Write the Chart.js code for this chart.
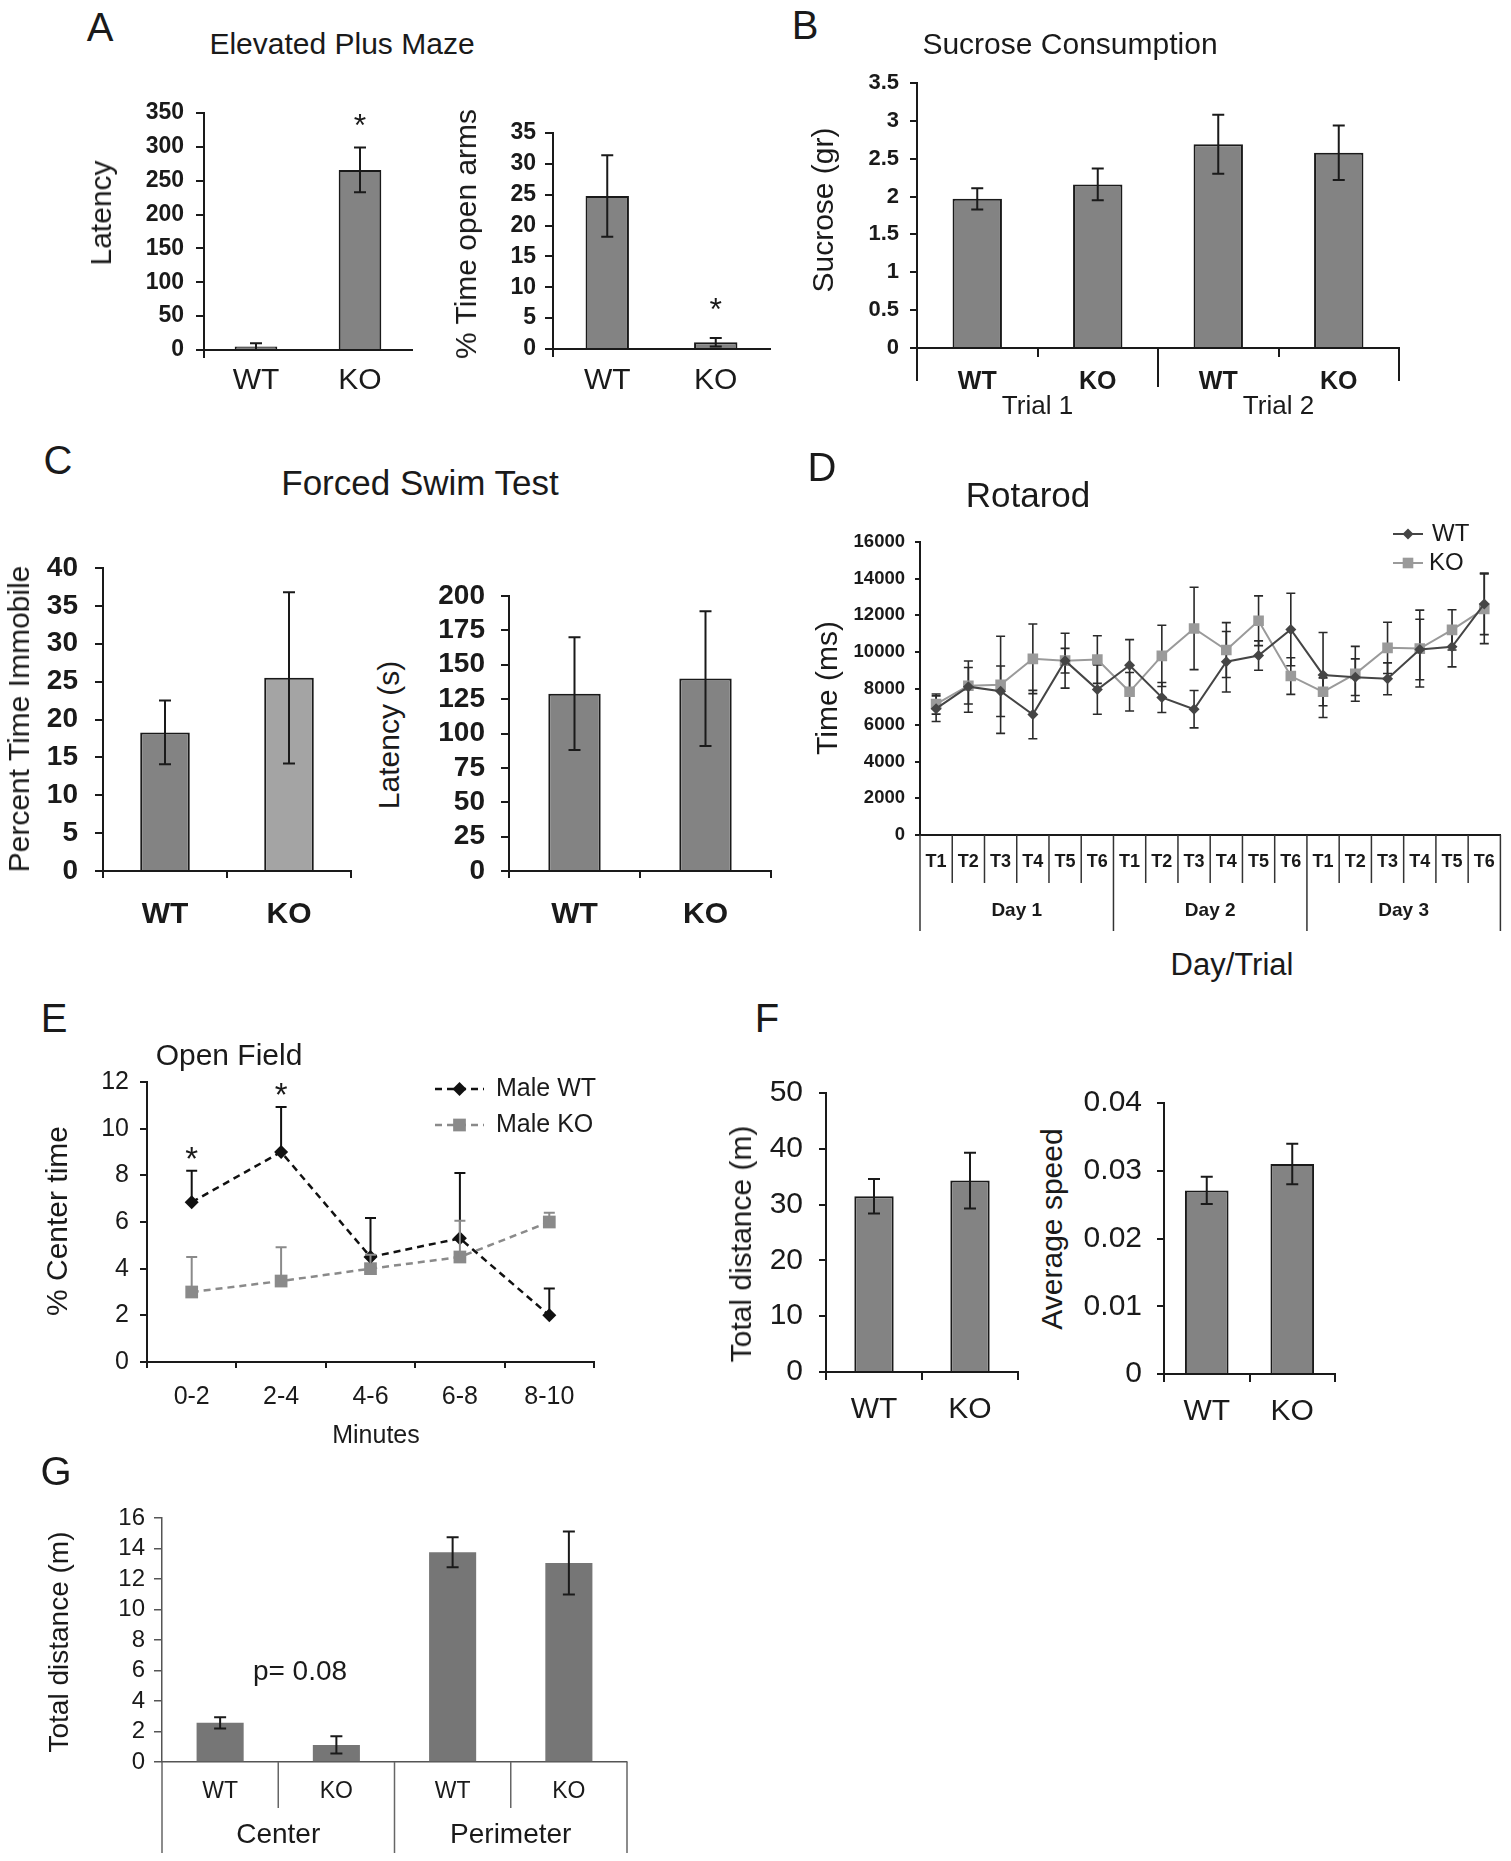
<!DOCTYPE html>
<html><head><meta charset="utf-8">
<script src="https://cdn.jsdelivr.net/npm/chart.js"></script>
<style>
html,body{margin:0;padding:0;background:#fff;}
body{position:relative;width:1511px;height:1861px;overflow:hidden;font-family:'Liberation Sans',Arial,sans-serif;color:#1a1a1a;}
canvas{position:absolute;}
.t{position:absolute;white-space:nowrap;line-height:1;transform:translate(-50%,-50%);}
.t.r{transform:translate(-50%,-50%) rotate(-90deg);}
</style></head><body>
<script>
// ---------------- DATA ----------------
// A: Elevated Plus Maze
const epmCats = ['WT', 'KO'];
const epmLatency = [5, 266];
const epmLatencyErr = [5, 33];
const epmOpenArms = [24.8, 1.1];
const epmOpenArmsErr = [6.6, 0.7];
// B: Sucrose consumption
const sucroseCats = ['WT', 'KO', 'WT', 'KO'];
const sucroseGroups = ['Trial 1', 'Trial 2'];
const sucrose = [1.97, 2.16, 2.69, 2.58];
const sucroseErr = [0.14, 0.21, 0.39, 0.36];
// C: Forced swim test
const fstCats = ['WT', 'KO'];
const fstImmobile = [18.3, 25.5];
const fstImmobileErr = [4.2, 11.3];
const fstLatency = [129, 140];
const fstLatencyErr = [41, 49];
// D: Rotarod
const rotarodTrials = ['T1','T2','T3','T4','T5','T6','T1','T2','T3','T4','T5','T6','T1','T2','T3','T4','T5','T6'];
const rotarodDays = ['Day 1', 'Day 2', 'Day 3'];
const rotarodWT = [6900, 8100, 7850, 6580, 9520, 7940, 9270, 7510, 6870, 9460, 9800, 11220, 8740, 8620, 8530, 10130, 10280, 12620];
const rotarodWTErr = [700, 1400, 1380, 1320, 670, 1350, 1400, 820, 1020, 1650, 800, 1980, 2320, 1000, 870, 1650, 1100, 1680];
const rotarodKO = [7150, 8150, 8200, 9620, 9520, 9580, 7820, 9780, 11280, 10100, 11700, 8680, 7820, 8800, 10220, 10180, 11200, 12350];
const rotarodKOErr = [550, 1000, 2650, 1900, 1500, 1300, 1050, 1670, 2250, 1500, 1360, 1000, 760, 1500, 1400, 2100, 1100, 1900];
// E: Open field
const ofCats = ['0-2', '2-4', '4-6', '6-8', '8-10'];
const ofWT = [6.85, 9.0, 4.5, 5.3, 2.0];
const ofWTErr = [1.35, 1.93, 1.67, 2.8, 1.15];
const ofKO = [3.0, 3.47, 4.0, 4.5, 6.0];
const ofKOErr = [1.5, 1.45, 0.6, 1.55, 0.4];
// F: Locomotion
const locoCats = ['WT', 'KO'];
const totalDistance = [31.5, 34.3];
const totalDistanceErr = [3.1, 5.0];
const avgSpeed = [0.0271, 0.031];
const avgSpeedErr = [0.002, 0.003];
// G: Zone distance
const zoneCats = ['WT', 'KO', 'WT', 'KO'];
const zoneGroups = ['Center', 'Perimeter'];
const zoneDistance = [2.57, 1.12, 13.75, 13.05];
const zoneDistanceErr = [0.37, 0.57, 0.98, 2.07];

// ---------------- HELPERS ----------------
const FONT = "'Liberation Sans', Arial, sans-serif";
Chart.defaults.font.family = FONT;
Chart.defaults.color = '#1a1a1a';
const INK = '#1a1a1a';
function fmt(v){ return String(Math.round(v * 1e6) / 1e6); }

function txt(s, x, y, size, opts){
  opts = opts || {};
  const d = document.createElement('div');
  d.className = 't' + (opts.rot ? ' r' : '');
  d.textContent = s;
  d.style.left = x + 'px'; d.style.top = y + 'px';
  d.style.fontSize = size + 'px';
  if (opts.bold) d.style.fontWeight = 'bold';
  document.body.appendChild(d);
}

function drawMarker(ctx, style, x, y, r, color){
  ctx.fillStyle = color; ctx.beginPath();
  if (style === 'diamond'){ ctx.moveTo(x, y - r); ctx.lineTo(x + r, y); ctx.lineTo(x, y + r); ctx.lineTo(x - r, y); ctx.closePath(); }
  else { const h = r * Math.SQRT1_2; ctx.rect(x - h, y - h, 2 * h, 2 * h); }
  ctx.fill();
}

function makePanel(o){
  o.axisColor = o.axisColor || INK; o.axisW = o.axisW || 2;
  const w = o.yW + (o.area.r - o.area.l) + o.padR;
  const h = o.padT + (o.area.b - o.area.t) + o.xH;
  const ox = o.area.l - o.yW, oy = o.area.t - o.padT;
  const cv = document.createElement('canvas');
  cv.width = w; cv.height = h;
  cv.style.left = ox + 'px'; cv.style.top = oy + 'px';
  cv.style.width = w + 'px'; cv.style.height = h + 'px';
  document.body.appendChild(cv);

  function drawErr(chart){
    const ctx = chart.ctx, ys = chart.scales.y;
    chart.data.datasets.forEach((ds, di) => {
      if (!ds.errors) return;
      const meta = chart.getDatasetMeta(di);
      ctx.save();
      ctx.strokeStyle = ds.errorColor || INK;
      ctx.lineWidth = ds.errorWidth || 2;
      const cap = (ds.errorCap || 12) / 2;
      meta.data.forEach((el, i) => {
        const v = ds.data[i], e = ds.errors[i];
        const x = el.x;
        const yT = ys.getPixelForValue(v + e);
        const yB = ys.getPixelForValue(ds.errorPlusOnly ? v : v - e);
        ctx.beginPath();
        ctx.moveTo(x, yT); ctx.lineTo(x, yB);
        ctx.moveTo(x - cap, yT); ctx.lineTo(x + cap, yT);
        if (!ds.errorPlusOnly){ ctx.moveTo(x - cap, yB); ctx.lineTo(x + cap, yB); }
        ctx.stroke();
      });
      ctx.restore();
    });
  }
  function drawSeps(chart){
    if (!o.seps) return;
    const ctx = chart.ctx, xs = chart.scales.x, n = chart.data.labels.length;
    const cw = (xs.right - xs.left) / n, y0 = xs.top;
    ctx.save(); ctx.strokeStyle = o.sepColor || INK; ctx.lineWidth = o.sepW || 2;
    o.seps.forEach(s => s.at.forEach(k => {
      const x = xs.left + k * cw;
      ctx.beginPath(); ctx.moveTo(x, y0); ctx.lineTo(x, y0 + s.len); ctx.stroke();
    }));
    ctx.restore();
  }
  function drawGroups(chart){
    if (!o.groups) return;
    const g = o.groups, ctx = chart.ctx, xs = chart.scales.x, n = chart.data.labels.length;
    const cw = (xs.right - xs.left) / n, per = n / g.labels.length;
    ctx.save();
    ctx.font = (g.bold ? 'bold ' : '') + g.size + 'px ' + FONT;
    ctx.fillStyle = INK; ctx.textAlign = 'center'; ctx.textBaseline = 'middle';
    g.labels.forEach((t, i) => ctx.fillText(t, xs.left + cw * per * (i + 0.5), xs.top + g.dy));
    ctx.restore();
  }
  function drawStars(chart){
    if (!o.stars) return;
    const s = o.stars, ctx = chart.ctx, ys = chart.scales.y;
    const di = s.ds || 0, ds = chart.data.datasets[di], meta = chart.getDatasetMeta(di);
    ctx.save();
    ctx.font = s.size + 'px ' + FONT;
    ctx.fillStyle = INK; ctx.textAlign = 'center'; ctx.textBaseline = 'alphabetic';
    s.idx.forEach(i => {
      const x = meta.data[i].x;
      const yc = ys.getPixelForValue(ds.data[i] + ds.errors[i]) - s.gap;
      ctx.fillText('*', x, yc + 0.575 * s.size);
    });
    ctx.restore();
  }
  function drawLegend(chart){
    if (!o.legend) return;
    const ctx = chart.ctx;
    o.legend.forEach(L => {
      const y = L.y - oy, x1 = L.x1 - ox, x2 = L.x2 - ox, xm = (x1 + x2) / 2;
      ctx.save();
      ctx.strokeStyle = L.color; ctx.lineWidth = L.lw || 2; ctx.setLineDash(L.dash || []);
      ctx.beginPath(); ctx.moveTo(x1, y); ctx.lineTo(x2, y); ctx.stroke();
      ctx.setLineDash([]);
      drawMarker(ctx, L.style, xm, y, L.r, L.color);
      ctx.font = L.size + 'px ' + FONT;
      ctx.fillStyle = INK; ctx.textAlign = 'left'; ctx.textBaseline = 'middle';
      ctx.fillText(L.text, L.tx - ox, y);
      ctx.restore();
    });
  }
  const extras = {
    id: 'extras',
    beforeDatasetsDraw(chart){ if (o.errLayer === 'before') drawErr(chart); },
    afterDatasetsDraw(chart){ if (o.errLayer !== 'before') drawErr(chart); },
    afterDraw(chart){ drawSeps(chart); drawGroups(chart); drawStars(chart); drawLegend(chart); }
  };

  return new Chart(cv, {
    type: o.type,
    data: { labels: o.labels, datasets: o.datasets },
    options: {
      responsive: false, maintainAspectRatio: false, animation: false, events: [],
      layout: { padding: { top: o.padT, right: o.padR, left: 0, bottom: 0 } },
      plugins: { legend: { display: false }, tooltip: { enabled: false }, title: { display: false } },
      scales: {
        x: {
          offset: true,
          border: { display: true, color: o.axisColor, width: o.axisW },
          grid: { display: o.xt.len > 0, offset: true, drawOnChartArea: false, drawTicks: o.xt.len > 0,
                  tickLength: o.xt.len || 0, color: o.axisColor, lineWidth: o.axisW },
          ticks: { font: { size: o.xt.size, weight: o.xt.bold ? 'bold' : 'normal' }, color: INK,
                   padding: o.xt.pad, maxRotation: 0, autoSkip: false },
          afterFit(s){ s.height = o.xH; }
        },
        y: {
          min: o.y.min, max: o.y.max,
          border: { display: true, color: o.axisColor, width: o.axisW },
          grid: { drawOnChartArea: false, drawTicks: o.yt.len > 0, tickLength: o.yt.len, color: o.axisColor, lineWidth: o.axisW },
          ticks: { stepSize: o.y.step, autoSkip: false, font: { size: o.yt.size, weight: o.yt.bold ? 'bold' : 'normal' }, color: INK,
                   padding: o.yt.pad, callback: v => fmt(v) },
          afterFit(s){ s.width = o.yW; }
        }
      }
    },
    plugins: [extras]
  });
}

const BAR = '#838383';
function barSet(data, errors, pct, colors, border){
  return { data: data, errors: errors, backgroundColor: colors || BAR,
           borderColor: border === false ? 'rgba(0,0,0,0)' : INK, borderWidth: border === false ? 0 : 2,
           barPercentage: pct, categoryPercentage: 1, errorCap: 12 };
}

// ---------------- PANEL A ----------------
makePanel({ type: 'bar', labels: epmCats, area: { l: 204, t: 113, r: 412, b: 350 },
  yW: 90, xH: 60, padT: 40, padR: 10,
  y: { min: 0, max: 350, step: 50 }, yt: { size: 23, bold: true, len: 8, pad: 12 },
  xt: { size: 30, len: 0, pad: 13 },
  datasets: [barSet(epmLatency, epmLatencyErr, 0.41)],
  seps: [{ at: [0], len: 8 }],
  stars: { idx: [1], gap: 30, size: 32 } });

makePanel({ type: 'bar', labels: epmCats, area: { l: 553, t: 133, r: 770, b: 349 },
  yW: 80, xH: 60, padT: 40, padR: 10,
  y: { min: 0, max: 35, step: 5 }, yt: { size: 23, bold: true, len: 8, pad: 9 },
  xt: { size: 30, len: 0, pad: 14 },
  datasets: [barSet(epmOpenArms, epmOpenArmsErr, 0.4)],
  seps: [{ at: [0], len: 8 }],
  stars: { idx: [1], gap: 36, size: 32 } });

// ---------------- PANEL B ----------------
makePanel({ type: 'bar', labels: sucroseCats, area: { l: 917, t: 83, r: 1399, b: 348 },
  yW: 80, xH: 80, padT: 40, padR: 10,
  y: { min: 0, max: 3.5, step: 0.5 }, yt: { size: 22, bold: true, len: 7, pad: 11 },
  xt: { size: 25, bold: true, len: 9, pad: 10 },
  datasets: [barSet(sucrose, sucroseErr, 0.41)],
  seps: [{ at: [0, 4], len: 33 }, { at: [2], len: 39 }],
  groups: { labels: sucroseGroups, size: 26, dy: 59 } });

// ---------------- PANEL C ----------------
makePanel({ type: 'bar', labels: fstCats, area: { l: 103, t: 568, r: 351, b: 871 },
  yW: 100, xH: 70, padT: 40, padR: 10,
  y: { min: 0, max: 40, step: 5 }, yt: { size: 28, bold: true, len: 8, pad: 17 },
  xt: { size: 30, bold: true, len: 7, pad: 19 },
  datasets: [barSet(fstImmobile, fstImmobileErr, 0.4, [BAR, '#a4a4a4'])] });

makePanel({ type: 'bar', labels: fstCats, area: { l: 509, t: 596, r: 771, b: 871 },
  yW: 90, xH: 70, padT: 40, padR: 10,
  y: { min: 0, max: 200, step: 25 }, yt: { size: 28, bold: true, len: 8, pad: 16 },
  xt: { size: 30, bold: true, len: 7, pad: 19 },
  datasets: [barSet(fstLatency, fstLatencyErr, 0.4)] });

// ---------------- PANEL D ----------------
makePanel({ type: 'line', labels: rotarodTrials, area: { l: 920, t: 542, r: 1503, b: 835 },
  yW: 80, xH: 105, padT: 40, padR: 8,
  y: { min: 0, max: 16000, step: 2000 }, yt: { size: 18.5, bold: true, len: 5, pad: 10 },
  xt: { size: 18, bold: true, len: 0, pad: 16 },
  errLayer: 'before',
  datasets: [
    { data: rotarodWT, errors: rotarodWTErr, errorColor: '#2a2a2a', errorWidth: 1.6, errorCap: 9,
      borderColor: '#454545', backgroundColor: '#454545', borderWidth: 2, tension: 0,
      pointStyle: 'rectRot', pointRadius: 5.5, pointBackgroundColor: '#454545', pointBorderColor: '#454545', pointBorderWidth: 0 },
    { data: rotarodKO, errors: rotarodKOErr, errorColor: '#2a2a2a', errorWidth: 1.6, errorCap: 9,
      borderColor: '#9a9a9a', backgroundColor: '#9a9a9a', borderWidth: 2, tension: 0,
      pointStyle: 'rect', pointRadius: 7.5, pointBackgroundColor: '#9a9a9a', pointBorderColor: '#9a9a9a', pointBorderWidth: 0 }
  ],
  sepColor: '#333', sepW: 1.5,
  seps: [{ at: [1, 2, 3, 4, 5, 7, 8, 9, 10, 11, 13, 14, 15, 16, 17], len: 48 }, { at: [0, 6, 12, 18], len: 96 }],
  groups: { labels: rotarodDays, size: 19, bold: true, dy: 76 },
  legend: [
    { text: 'WT', y: 534, x1: 1393, x2: 1423, tx: 1432, color: '#454545', style: 'diamond', r: 5.5, size: 24 },
    { text: 'KO', y: 563, x1: 1393, x2: 1423, tx: 1429, color: '#9a9a9a', style: 'square', r: 7.5, size: 24 }
  ] });

// ---------------- PANEL E ----------------
makePanel({ type: 'line', labels: ofCats, area: { l: 147, t: 1082, r: 594, b: 1362 },
  yW: 80, xH: 60, padT: 40, padR: 10,
  y: { min: 0, max: 12, step: 2 }, yt: { size: 25, len: 7, pad: 11 },
  xt: { size: 25, len: 6, pad: 14 },
  datasets: [
    { data: ofWT, errors: ofWTErr, errorPlusOnly: true, errorColor: '#111', errorWidth: 2, errorCap: 11,
      borderColor: '#111', backgroundColor: '#111', borderWidth: 2.5, borderDash: [7, 5], tension: 0,
      pointStyle: 'rectRot', pointRadius: 7, pointBackgroundColor: '#111', pointBorderWidth: 0 },
    { data: ofKO, errors: ofKOErr, errorPlusOnly: true, errorColor: '#8a8a8a', errorWidth: 2, errorCap: 11,
      borderColor: '#8a8a8a', backgroundColor: '#8a8a8a', borderWidth: 2.5, borderDash: [7, 5], tension: 0,
      pointStyle: 'rect', pointRadius: 9, pointBackgroundColor: '#8a8a8a', pointBorderWidth: 0 }
  ],
  stars: { ds: 0, idx: [0, 1], gap: 20, size: 33 },
  legend: [
    { text: 'Male WT', y: 1089, x1: 435, x2: 484, tx: 496, color: '#111', dash: [7, 5], lw: 2.5, style: 'diamond', r: 7, size: 25 },
    { text: 'Male KO', y: 1125, x1: 435, x2: 484, tx: 496, color: '#8a8a8a', dash: [7, 5], lw: 2.5, style: 'square', r: 9, size: 25 }
  ] });

// ---------------- PANEL F ----------------
makePanel({ type: 'bar', labels: locoCats, area: { l: 826, t: 1093, r: 1018, b: 1372 },
  yW: 80, xH: 60, padT: 40, padR: 10,
  y: { min: 0, max: 50, step: 10 }, yt: { size: 30, len: 7, pad: 16 },
  xt: { size: 30, len: 8, pad: 12 },
  datasets: [barSet(totalDistance, totalDistanceErr, 0.41)] });

makePanel({ type: 'bar', labels: locoCats, area: { l: 1164, t: 1103, r: 1335, b: 1374 },
  yW: 90, xH: 60, padT: 40, padR: 10,
  y: { min: 0, max: 0.04, step: 0.01 }, yt: { size: 30, len: 7, pad: 15 },
  xt: { size: 30, len: 8, pad: 12 },
  datasets: [barSet(avgSpeed, avgSpeedErr, 0.51)] });

// ---------------- PANEL G ----------------
makePanel({ type: 'bar', labels: zoneCats, area: { l: 162, t: 1518, r: 627, b: 1762 },
  yW: 70, xH: 95, padT: 40, padR: 10, axisColor: '#555', axisW: 1.5,
  y: { min: 0, max: 16, step: 2 }, yt: { size: 24, len: 8, pad: 9 },
  xt: { size: 23, len: 0, pad: 16 },
  datasets: [barSet(zoneDistance, zoneDistanceErr, 0.405, '#767676', false)],
  sepColor: '#666', sepW: 1.5,
  seps: [{ at: [1, 3], len: 46 }, { at: [0, 2, 4], len: 91 }],
  groups: { labels: zoneGroups, size: 28, dy: 73 } });

// ---------------- TEXT ----------------
txt('A', 100, 27, 40);
txt('Elevated Plus Maze', 342, 44, 30);
txt('Latency', 101, 213, 30, { rot: true });
txt('% Time open arms', 466, 234, 30, { rot: true });
txt('B', 805, 25, 40);
txt('Sucrose Consumption', 1070, 44, 30);
txt('Sucrose (gr)', 823, 210, 30, { rot: true });
txt('C', 58, 460, 40);
txt('Forced Swim Test', 420, 482, 35);
txt('Percent Time Immobile', 19, 719, 30, { rot: true });
txt('Latency (s)', 389, 735, 30, { rot: true });
txt('D', 822, 467, 40);
txt('Rotarod', 1028, 494, 35);
txt('Time (ms)', 827, 688, 30, { rot: true });
txt('Day/Trial', 1232, 964, 31);
txt('E', 54, 1018, 40);
txt('Open Field', 229, 1055, 30);
txt('% Center time', 57, 1221, 30, { rot: true });
txt('Minutes', 376, 1434, 25);
txt('F', 767, 1018, 40);
txt('Total distance (m)', 741, 1244, 30, { rot: true });
txt('Average speed', 1052, 1229, 30, { rot: true });
txt('G', 56, 1471, 40);
txt('Total distance (m)', 59, 1642, 28, { rot: true });
txt('p= 0.08', 300, 1671, 28);
</script>
</body></html>
